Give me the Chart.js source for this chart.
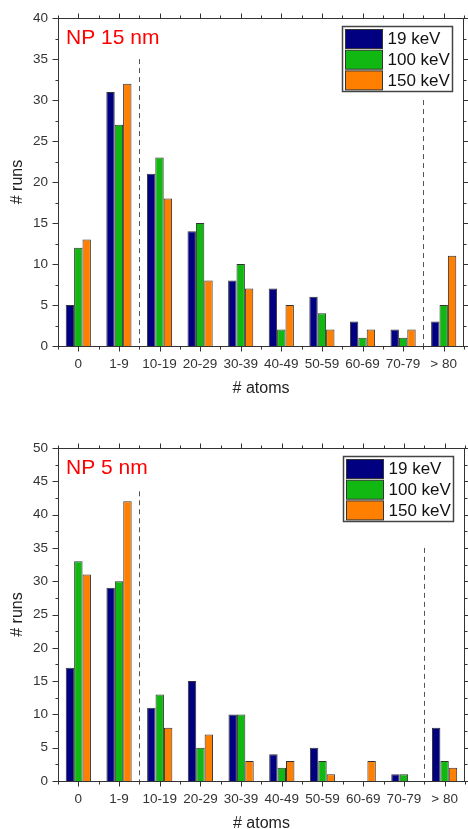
<!DOCTYPE html>
<html>
<head>
<meta charset="utf-8">
<script src="https://cdn.jsdelivr.net/npm/chart.js@4.4.0/dist/chart.umd.min.js"></script>
<style>
  html, body { margin: 0; padding: 0; background: #fff; overflow: hidden; }
  .panel { position: absolute; left: 0; width: 468px; }
  #top { top: 0; height: 414px; }
  #bottom { top: 414px; height: 420px; }
</style>
</head>
<body>
<div class="panel" id="top"><canvas id="np15"></canvas></div>
<div class="panel" id="bottom"><canvas id="np5"></canvas></div>
<script>
const categories = ["0", "1-9", "10-19", "20-29", "30-39", "40-49", "50-59", "60-69", "70-79", "> 80"];
const energies = ["19 keV", "100 keV", "150 keV"];

// NP 15 nm
const np15Kev19 = [5, 31, 21, 14, 8, 7, 6, 3, 2, 3];
const np15Kev100 = [12, 27, 23, 15, 10, 2, 4, 1, 1, 5];
const np15Kev150 = [13, 32, 18, 8, 7, 5, 2, 2, 2, 11];

// NP 5 nm
const np5Kev19 = [17, 29, 11, 15, 10, 4, 5, 0, 1, 8];
const np5Kev100 = [33, 30, 13, 5, 10, 2, 3, 0, 1, 3];
const np5Kev150 = [31, 42, 8, 7, 3, 3, 1, 3, 0, 2];

// dashed separators: [category boundary, upper value]
const np15Dashes = [[1.5, 35], [8.5, 30]];
const np5Dashes = [[1.5, 43.5], [8.5, 35]];

const barColors = ["#000080", "#12b812", "#ff8000"];
const FONT = "'Liberation Sans', Arial, sans-serif";

const decor = {
  id: "decor",
  afterDraw(chart, args, o) {
    const { ctx, chartArea: a, scales: { x, y } } = chart;
    const L = Math.round(a.left) + 0.5, R = Math.round(a.right) - 0.5;
    const T = Math.round(a.top) + 0.5, B = Math.round(a.bottom) + 0.5;
    ctx.save();

    // dashed lines
    ctx.strokeStyle = "#555";
    ctx.lineWidth = 1;
    ctx.setLineDash([5, 4]);
    o.dashes.forEach(([pos, top]) => {
      const px = Math.round(x.getPixelForValue(pos)) + 0.5;
      ctx.beginPath();
      ctx.moveTo(px, y.getPixelForValue(top));
      ctx.lineTo(px, B);
      ctx.stroke();
    });
    ctx.setLineDash([]);

    // frame + ticks
    ctx.strokeStyle = "#333";
    ctx.strokeRect(L, T, R - L, B - T);
    ctx.beginPath();
    for (let v = 0; v <= y.max; v += 2.5) {
      const py = Math.round(y.getPixelForValue(v)) + 0.5;
      const len = v % 5 === 0 ? 6 : 3;
      ctx.moveTo(L, py); ctx.lineTo(L - len, py);
      ctx.moveTo(R, py); ctx.lineTo(R + len, py);
    }
    for (let i = -0.5; i < categories.length; i += 0.5) {
      const px = Math.round(x.getPixelForValue(i)) + 0.5;
      const len = Number.isInteger(i) ? 5 : 3;
      ctx.moveTo(px, B); ctx.lineTo(px, B + len);
      ctx.moveTo(px, T); ctx.lineTo(px, T - len);
    }
    ctx.stroke();

    // panel label
    ctx.fillStyle = "#ff0000";
    ctx.font = "21px " + FONT;
    ctx.textBaseline = "alphabetic";
    ctx.fillText(o.label, a.left + 8, a.top + 26);

    // legend
    const bw = 110, bh = 65;
    const bx = Math.round(a.right - 12 - bw) + 0.5, by = Math.round(a.top + 8) + 0.5;
    ctx.fillStyle = "#fff";
    ctx.fillRect(bx, by, bw, bh);
    ctx.lineWidth = 1.5;
    ctx.strokeStyle = "#444";
    ctx.strokeRect(bx, by, bw, bh);
    ctx.lineWidth = 1;
    ctx.font = "17px " + FONT;
    ctx.textBaseline = "middle";
    chart.data.datasets.forEach((ds, i) => {
      const sy = by + 3 + i * 20.7;
      ctx.fillStyle = ds.backgroundColor;
      ctx.fillRect(bx + 3, sy, 37, 19);
      ctx.strokeStyle = "#333";
      ctx.strokeRect(bx + 3, sy, 37, 19);
      ctx.fillStyle = "#111";
      ctx.fillText(ds.label, bx + 45, sy + 10);
    });
    ctx.restore();
  }
};

function makeChart(id, series, yMax, label, dashes, pad, xHeight, xTitlePad) {
  return new Chart(document.getElementById(id), {
    type: "bar",
    data: {
      labels: categories,
      datasets: series.map((d, i) => ({
        label: energies[i],
        data: d,
        backgroundColor: barColors[i],
        borderColor: "#333",
        borderWidth: 1,
        categoryPercentage: 0.62,
        barPercentage: 1,
      })),
    },
    options: {
      responsive: true,
      maintainAspectRatio: false,
      animation: false,
      layout: { padding: pad },
      plugins: {
        legend: { display: false },
        tooltip: { enabled: false },
        decor: { label, dashes },
      },
      scales: {
        x: {
          grid: { display: false, drawTicks: false },
          border: { display: false },
          ticks: { color: "#333", font: { size: 13.5, family: FONT }, padding: 10, maxRotation: 0, autoSkip: false },
          title: { display: true, text: "# atoms", color: "#222", font: { size: 16, family: FONT }, padding: { top: 0, bottom: xTitlePad } },
          afterFit: (s) => { s.height = xHeight; },
        },
        y: {
          min: 0,
          max: yMax,
          grid: { display: false, drawTicks: false },
          border: { display: false },
          ticks: { stepSize: 5, color: "#333", font: { size: 13.5, family: FONT }, padding: 10 },
          title: { display: true, text: "# runs", color: "#222", font: { size: 16, family: FONT }, padding: { top: 8, bottom: 0 } },
          afterFit: (s) => { s.width = 58; },
        },
      },
    },
    plugins: [decor],
  });
}

makeChart("np15", [np15Kev19, np15Kev100, np15Kev150], 40, "NP 15 nm", np15Dashes,
  { top: 17, right: 4, left: 0, bottom: 0 }, 68, 16);
makeChart("np5", [np5Kev19, np5Kev100, np5Kev150], 50, "NP 5 nm", np5Dashes,
  { top: 34, right: 2, left: 0, bottom: 0 }, 53, 1);
</script>
</body>
</html>
